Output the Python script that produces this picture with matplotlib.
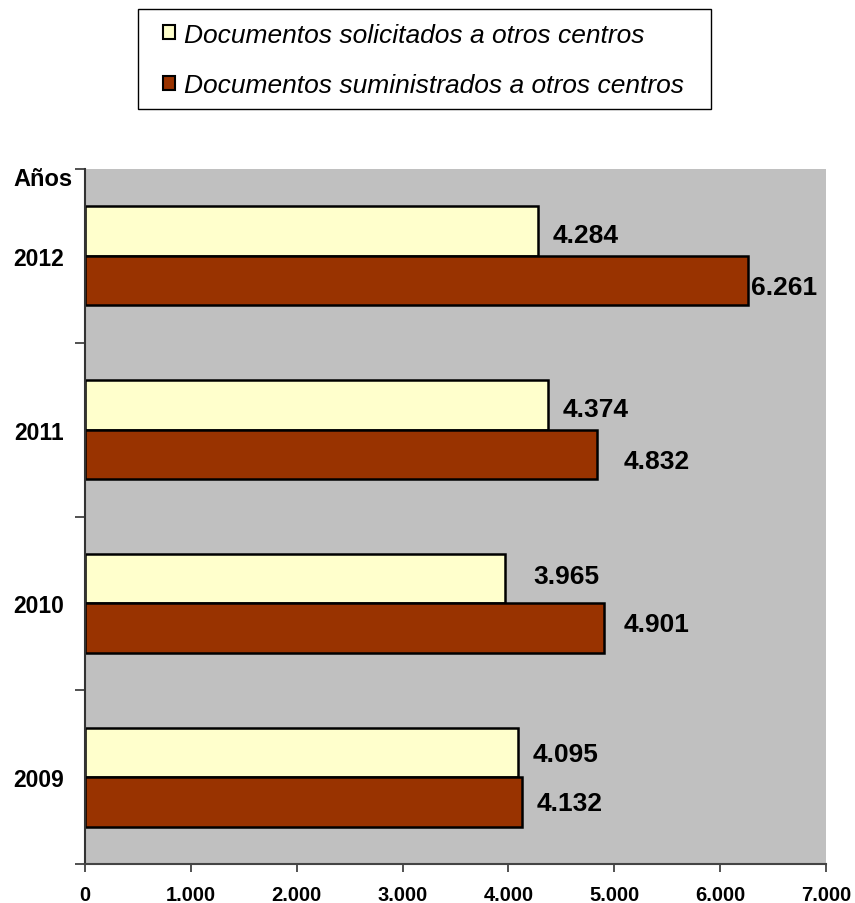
import numpy as np
import matplotlib
matplotlib.use("Agg")
import matplotlib.pyplot as plt
from matplotlib.patches import Patch, Rectangle
from matplotlib.ticker import FuncFormatter, FixedLocator

plt.rcParams['font.family'] = ['Liberation Sans', 'DejaVu Sans']

## Datos ##
years = ["2009", "2010", "2011", "2012"]
solicitados = [4095, 3965, 4374, 4284]
suministrados = [4132, 4901, 4832, 6261]
series_names = ["Documentos solicitados a otros centros",
                "Documentos suministrados a otros centros"]

# desplazamiento de las etiquetas (px) como en el original
sol_dx = [14, 29, 15, 14]
sol_dy = [-2, 3, -4, -4]
sum_dx = [14, 20, 27, 3]
sum_dy = [-1, 4, -7, -6]

c_sol = '#FFFFCC'
c_sum = '#993300'
c_bg = '#C0C0C0'

fig = plt.figure(figsize=(8.55, 9.04), dpi=100)
ax = fig.add_axes([85 / 855, 1 - 865 / 904, (826 - 85) / 855, (865 - 170) / 904])
ax.set_facecolor(c_bg)

y = np.arange(len(years))
h = 0.285
ax.barh(y + h / 2, solicitados, height=h, color=c_sol, edgecolor='black', linewidth=1.8)
ax.barh(y - h / 2, suministrados, height=h, color=c_sum, edgecolor='black', linewidth=1.8)

def fmt(v, pos=None):
    return f"{int(v):,}".replace(",", ".")

for i in range(len(years)):
    ax.annotate(fmt(solicitados[i]), (solicitados[i], y[i] + h / 2),
                xytext=(sol_dx[i], sol_dy[i]), textcoords='offset pixels',
                ha='left', va='center', fontsize=19, fontweight='bold')
    ax.annotate(fmt(suministrados[i]), (suministrados[i], y[i] - h / 2),
                xytext=(sum_dx[i], sum_dy[i]), textcoords='offset pixels',
                ha='left', va='center', fontsize=19, fontweight='bold')

ax.set_xlim(0, 7000)
ax.set_ylim(-0.5, len(years) - 0.5)
ax.set_xticks(np.arange(0, 7001, 1000))
ax.xaxis.set_major_formatter(FuncFormatter(fmt))
ax.tick_params(axis='x', direction='out', length=6, width=1.2, color='#333333', pad=9)
for lab in ax.get_xticklabels():
    lab.set_fontsize(14.5)
    lab.set_fontweight('bold')

ax.set_yticks(y)
ax.set_yticklabels(years, fontsize=16.5, fontweight='bold')
ax.tick_params(axis='y', which='major', length=0, pad=15)
ax.yaxis.set_minor_locator(FixedLocator(np.arange(-0.5, len(years), 1.0)))
ax.tick_params(axis='y', which='minor', direction='out', length=7, width=1.2, color='#333333')

for s in ['top', 'right']:
    ax.spines[s].set_visible(False)
ax.spines['left'].set_linewidth(1.5)
ax.spines['left'].set_color('#333333')
ax.spines['bottom'].set_linewidth(1.5)
ax.spines['bottom'].set_color('#444444')

fig.text(13 / 855, 1 - 180 / 904, "Años", fontsize=17, fontweight='bold', va='center', ha='left')

## Leyenda ##
fig.patches.append(Rectangle((138 / 855, 1 - 110 / 904), 573 / 855, 100 / 904,
                             transform=fig.transFigure, facecolor='white',
                             edgecolor='black', linewidth=1.0, zorder=0))
handles = [Patch(facecolor=c_sol, edgecolor='black', linewidth=1.5),
           Patch(facecolor=c_sum, edgecolor='black', linewidth=1.5)]
leg = fig.legend(handles, series_names, loc='upper left',
                 bbox_to_anchor=(148 / 855, 1 - 9 / 904),
                 prop={'size': 19, 'style': 'italic'},
                 handlelength=0.48, handleheight=0.48, handletextpad=0.32,
                 labelspacing=1.02, borderpad=0.55, borderaxespad=0,
                 frameon=False)

fig.savefig("out.png", dpi=100)
